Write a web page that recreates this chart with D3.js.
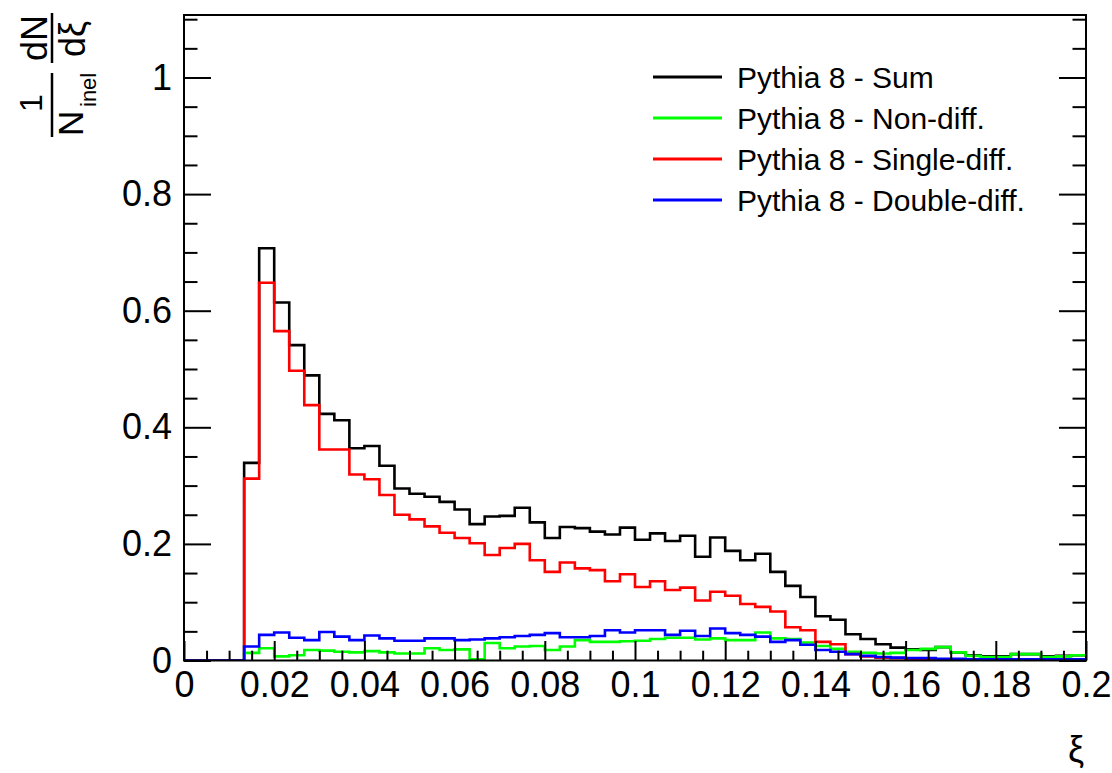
<!DOCTYPE html>
<html>
<head>
<meta charset="utf-8">
<script src="https://cdn.jsdelivr.net/npm/d3@7/dist/d3.min.js"></script>
<style>
  html, body { margin: 0; padding: 0; background: #fff; }
  svg { display: block; font-family: "Liberation Sans", Arial, Helvetica, sans-serif; }
</style>
</head>
<body>
<svg id="chart" width="1112" height="773"></svg>
<script>
// ---------------- data ----------------
const nBins = 60;
const xMin = 0, xMax = 0.2;
const xTickMajor = [0, 0.02, 0.04, 0.06, 0.08, 0.1, 0.12, 0.14, 0.16, 0.18, 0.2];
const xTickLabels = ["0", "0.02", "0.04", "0.06", "0.08", "0.1", "0.12", "0.14", "0.16", "0.18", "0.2"];
const yTickMajor = [0, 0.2, 0.4, 0.6, 0.8, 1];
const yTickLabels = ["0", "0.2", "0.4", "0.6", "0.8", "1"];
const seriesNames = ["Pythia 8 - Sum", "Pythia 8 - Non-diff.", "Pythia 8 - Single-diff.", "Pythia 8 - Double-diff."];
const seriesColors = ["#000000", "#00ff00", "#ff0000", "#0000ff"];

const sumVals = [0, 0, 0, 0, 0.339, 0.707, 0.614, 0.541, 0.489, 0.423,
  0.412, 0.364, 0.368, 0.334, 0.295, 0.286, 0.281, 0.272, 0.259, 0.234,
  0.247, 0.248, 0.262, 0.237, 0.210, 0.229, 0.227, 0.221, 0.216, 0.228,
  0.207, 0.218, 0.205, 0.214, 0.178, 0.211, 0.188, 0.172, 0.183, 0.152,
  0.128, 0.109, 0.076, 0.070, 0.045, 0.037, 0.028, 0.022, 0.019, 0.018,
  0.023, 0.014, 0.009, 0.007, 0.007, 0.011, 0.011, 0.007, 0.008, 0.009];
const ndVals = [0, 0, 0, 0, 0.013, 0.021, 0.007, 0.009, 0.018, 0.017,
  0.015, 0.014, 0.016, 0.014, 0.012, 0.012, 0.021, 0.018, 0.019, 0.002,
  0.030, 0.021, 0.024, 0.025, 0.018, 0.024, 0.035, 0.032, 0.032, 0.033,
  0.034, 0.037, 0.039, 0.039, 0.036, 0.038, 0.035, 0.035, 0.048, 0.038,
  0.037, 0.031, 0.025, 0.020, 0.015, 0.013, 0.012, 0.013, 0.018, 0.020,
  0.023, 0.014, 0.008, 0.006, 0.006, 0.011, 0.011, 0.006, 0.007, 0.009];
const sdVals = [0, 0, 0, 0, 0.312, 0.648, 0.565, 0.497, 0.438, 0.362,
  0.362, 0.319, 0.311, 0.284, 0.250, 0.242, 0.230, 0.219, 0.210, 0.201,
  0.181, 0.193, 0.200, 0.172, 0.152, 0.168, 0.158, 0.155, 0.136, 0.148,
  0.126, 0.136, 0.121, 0.125, 0.103, 0.118, 0.111, 0.097, 0.092, 0.084,
  0.057, 0.052, 0.032, 0.028, 0.011, 0.007, 0.005, 0.004, 0.003, 0.002,
  0.002, 0.001, 0.001, 0.001, 0.001, 0.001, 0.001, 0.001, 0.001, 0.001];
const ddVals = [0, 0, 0, 0, 0.024, 0.044, 0.048, 0.039, 0.035, 0.049,
  0.041, 0.035, 0.043, 0.038, 0.034, 0.034, 0.038, 0.038, 0.035, 0.036,
  0.038, 0.040, 0.042, 0.044, 0.047, 0.040, 0.040, 0.042, 0.052, 0.048,
  0.052, 0.052, 0.044, 0.051, 0.042, 0.055, 0.047, 0.044, 0.041, 0.032,
  0.035, 0.027, 0.018, 0.015, 0.011, 0.008, 0.006, 0.005, 0.004, 0.004,
  0.003, 0.003, 0.002, 0.002, 0.002, 0.002, 0.002, 0.002, 0.002, 0.002];

// ---------------- layout ----------------
const svg = d3.select("#chart");
const L = 184, R = 1086, T = 15, B = 660.5;
const x = d3.scaleLinear().domain([xMin, xMax]).range([L, R]);
const y = d3.scaleLinear().domain([0, 1]).range([B, 77.5]);

const binW = (xMax - xMin) / nBins;
const xMinor = d3.range(0, 41).map(i => i * 0.005).filter(v => Math.abs((v / 0.02) - Math.round(v / 0.02)) > 1e-6);
const yMinor = d3.range(0, 23).map(i => i * 0.05).filter(v => v <= 1.1 && Math.abs((v / 0.2) - Math.round(v / 0.2)) > 1e-6);

svg.append("defs").append("clipPath").attr("id", "clip")
  .append("rect").attr("x", L).attr("y", T).attr("width", R - L).attr("height", B - T);

// histograms
const line = d3.line().x(d => x(d[0])).y(d => y(d[1])).curve(d3.curveStepAfter);
const allSeries = [sumVals, ndVals, sdVals, ddVals];
const gHist = svg.append("g").attr("clip-path", "url(#clip)");
allSeries.forEach((vals, k) => {
  const pts = vals.map((v, i) => [xMin + i * binW, v]);
  pts.push([xMax, vals[vals.length - 1]]);
  gHist.append("path")
    .attr("d", line(pts))
    .attr("fill", "none")
    .attr("stroke", seriesColors[k])
    .attr("stroke-width", 2.6);
});

// axes
const fmtX = d => xTickLabels[xTickMajor.findIndex(t => Math.abs(t - d) < 1e-9)];
const fmtY = d => yTickLabels[yTickMajor.findIndex(t => Math.abs(t - d) < 1e-9)];

const gx = svg.append("g").attr("transform", `translate(0,${B})`)
  .call(d3.axisBottom(x).tickValues(xTickMajor).tickFormat(fmtX).tickSizeInner(-19.5).tickSizeOuter(0).tickPadding(11));
const gxm = svg.append("g").attr("transform", `translate(0,${B})`)
  .call(d3.axisBottom(x).tickValues(xMinor).tickFormat("").tickSizeInner(-9.8).tickSizeOuter(0));
const gy = svg.append("g").attr("transform", `translate(${L},0)`)
  .call(d3.axisLeft(y).tickValues(yTickMajor).tickFormat(fmtY).tickSizeInner(-27).tickSizeOuter(0).tickPadding(12));
const gym = svg.append("g").attr("transform", `translate(${L},0)`)
  .call(d3.axisLeft(y).tickValues(yMinor).tickFormat("").tickSizeInner(-13.5).tickSizeOuter(0));
const gyr = svg.append("g").attr("transform", `translate(${R},0)`)
  .call(d3.axisRight(y).tickValues(yTickMajor).tickFormat("").tickSizeInner(-27).tickSizeOuter(0));
const gyrm = svg.append("g").attr("transform", `translate(${R},0)`)
  .call(d3.axisRight(y).tickValues(yMinor).tickFormat("").tickSizeInner(-13.5).tickSizeOuter(0));

[gx, gxm, gy, gym, gyr, gyrm].forEach(g => {
  g.select(".domain").remove();
  g.selectAll(".tick line").attr("stroke", "#000").attr("stroke-width", 2);
  g.selectAll(".tick text").attr("fill", "#000").attr("font-size", 36)
    .attr("font-family", "'Liberation Sans', Arial, Helvetica, sans-serif");
});
gx.selectAll(".tick text").attr("dy", "0.71em");

// frame
svg.append("rect").attr("x", L).attr("y", T).attr("width", R - L).attr("height", B - T)
  .attr("fill", "none").attr("stroke", "#000").attr("stroke-width", 2);

// x title
svg.append("text").attr("x", R - 2).attr("y", 762).attr("text-anchor", "end")
  .attr("font-size", 36).text("ξ");

// y title: (1/N_inel) (dN/dξ), rotated
const yt = svg.append("g").attr("transform", "translate(52,137) rotate(-90)");
yt.append("line").attr("x1", 0).attr("x2", 64).attr("y1", 0).attr("y2", 0).attr("stroke", "#000").attr("stroke-width", 2.5);
yt.append("line").attr("x1", 74).attr("x2", 124).attr("y1", 0).attr("y2", 0).attr("stroke", "#000").attr("stroke-width", 2.5);
yt.append("text").attr("x", 34).attr("y", -10).attr("text-anchor", "middle").attr("font-size", 32).text("1");
yt.append("text").attr("x", 1).attr("y", 31).attr("font-size", 35).text("N");
yt.append("text").attr("x", 30).attr("y", 44).attr("font-size", 22).text("inel");
yt.append("text").attr("x", 99).attr("y", -5).attr("text-anchor", "middle").attr("font-size", 36).text("dN");
yt.append("text").attr("x", 98).attr("y", 33).attr("text-anchor", "middle").attr("font-size", 36).text("dξ");

// legend
const legY = [77, 118, 159, 200];
const leg = svg.append("g");
seriesNames.forEach((name, k) => {
  leg.append("line").attr("x1", 653).attr("x2", 722).attr("y1", legY[k]).attr("y2", legY[k])
    .attr("stroke", seriesColors[k]).attr("stroke-width", 3);
  leg.append("text").attr("x", 737).attr("y", legY[k]).attr("dy", "0.35em")
    .attr("font-size", 30).attr("fill", "#000").text(name);
});
</script>
</body>
</html>
